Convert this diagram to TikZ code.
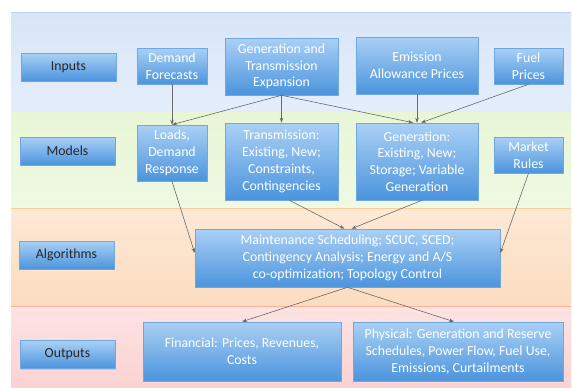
\documentclass[tikz,border=0pt]{standalone}
\usepackage{fontspec}
\setmainfont{Carlito}
\usetikzlibrary{arrows.meta,shadows}
\definecolor{boxtop}{HTML}{AAD0F5}
\definecolor{boxbot}{HTML}{4B94DD}
\definecolor{boxborder}{HTML}{6FA8E0}
\definecolor{arrgray}{HTML}{6A6A6A}
\definecolor{inTop}{HTML}{D9E6F8}
\definecolor{inBot}{HTML}{E4EDFB}
\definecolor{moTop}{HTML}{E8F6D6}
\definecolor{moBot}{HTML}{EFF9E3}
\definecolor{alTop}{HTML}{FDE9D6}
\definecolor{alBot}{HTML}{FBDCC0}
\definecolor{ouTop}{HTML}{FDE3E3}
\definecolor{ouBot}{HTML}{FBD2D2}
\begin{document}
\begin{tikzpicture}[x=1pt,y=-1pt,
  box/.style={draw=boxborder, line width=0.6pt, top color=boxtop, bottom color=boxbot,
    text=white, font=\fontsize{13.8}{16.8}\selectfont, align=center, inner sep=2pt,
    drop shadow={shadow xshift=1pt, shadow yshift=-1pt, opacity=0.25}},
  lbl/.style={box, text=black!85, minimum width=95pt, minimum height=28pt},
  arr/.style={draw=arrgray, line width=0.6pt, -{Stealth[length=5pt,width=3.5pt]}}]
\useasboundingbox (0,0) rectangle (573,388);
\fill[white] (0,0) rectangle (573,388);
% bands
\shade[top color=inTop, bottom color=inBot] (11,12) rectangle (571,111);
\draw[draw=boxborder!50, line width=0.6pt] (11,12) -- (571,12);
\shade[top color=moTop, bottom color=moBot] (11,111) rectangle (571,208);
\draw[draw=moTop!70!gray!40, line width=0.4pt] (11,111) -- (571,111);
\shade[top color=alTop, bottom color=alBot] (11,208) rectangle (571,306);
\draw[draw=orange!40, line width=0.4pt] (11,208) -- (571,208);
\shade[top color=ouTop, bottom color=ouBot] (11,306) rectangle (571,388);
\draw[draw=orange!50!red!40, line width=0.4pt] (11,306) -- (571,306);
% left labels
\node[lbl] (linp) at (68.5,67) {Inputs};
\node[lbl] (lmod) at (67.5,151) {Models};
\node[lbl] (lalg) at (66.5,255) {Algorithms};
\node[lbl] (lout) at (67.5,354.5) {Outputs};
% inputs
\node[box, minimum width=70pt, minimum height=36pt] (df) at (172,66) {Demand\\Forecasts};
\node[box, minimum width=113pt, minimum height=57pt] (gte) at (281.5,66.5) {Generation and\\Transmission\\Expansion};
\node[box, minimum width=122pt, minimum height=57pt] (eap) at (417,65.5) {Emission\\Allowance Prices};
\node[box, minimum width=69pt, minimum height=36pt] (fp) at (528.5,66) {Fuel\\Prices};
% models
\node[box, minimum width=70pt, minimum height=56pt] (loads) at (172,153) {Loads,\\Demand\\Response};
\node[box, minimum width=113pt, minimum height=77pt] (trans) at (281.5,161.5) {Transmission:\\Existing, New;\\Constraints,\\Contingencies};
\node[box, minimum width=122pt, minimum height=77pt] (gen) at (417,161.5) {Generation:\\Existing, New;\\Storage; Variable\\Generation};
\node[box, minimum width=69pt, minimum height=36pt] (mr) at (528.5,155) {Market\\Rules};
% algorithms
\node[box, minimum width=305pt, minimum height=58pt] (alg) at (347.5,258) {Maintenance Scheduling; SCUC, SCED;\\Contingency Analysis; Energy and A/S\\co-optimization; Topology Control};
% outputs
\node[box, minimum width=198pt, minimum height=59pt] (fin) at (242,351.5) {Financial: Prices, Revenues,\\Costs};
\node[box, minimum width=210pt, minimum height=59pt] (phys) at (458,351.5) {Physical: Generation and Reserve\\Schedules, Power Flow, Fuel Use,\\Emissions, Curtailments};
% connectors
\draw[arr] (df.south) -- (loads.north);
\draw[arr] (gte.south) -- (loads.north);
\draw[arr] (gte.south) -- (trans.north);
\draw[arr] (gte.south) -- ([xshift=-4pt]gen.north);
\draw[arr] (eap.south) -- (gen.north);
\draw[arr] (fp.south) -- ([xshift=4pt]gen.north);
\draw[arr] (loads.south) -- ([yshift=5pt]alg.west);
\draw[arr] ([xshift=8pt]trans.south) -- ([xshift=-3pt]alg.north);
\draw[arr] ([xshift=5pt]gen.south) -- ([xshift=4pt]alg.north);
\draw[arr] (mr.south) -- ([yshift=5pt]alg.east);
\draw[arr] (alg.south) -- (fin.north);
\draw[arr] (alg.south) -- ([xshift=-4pt]phys.north);
\end{tikzpicture}
\end{document}
